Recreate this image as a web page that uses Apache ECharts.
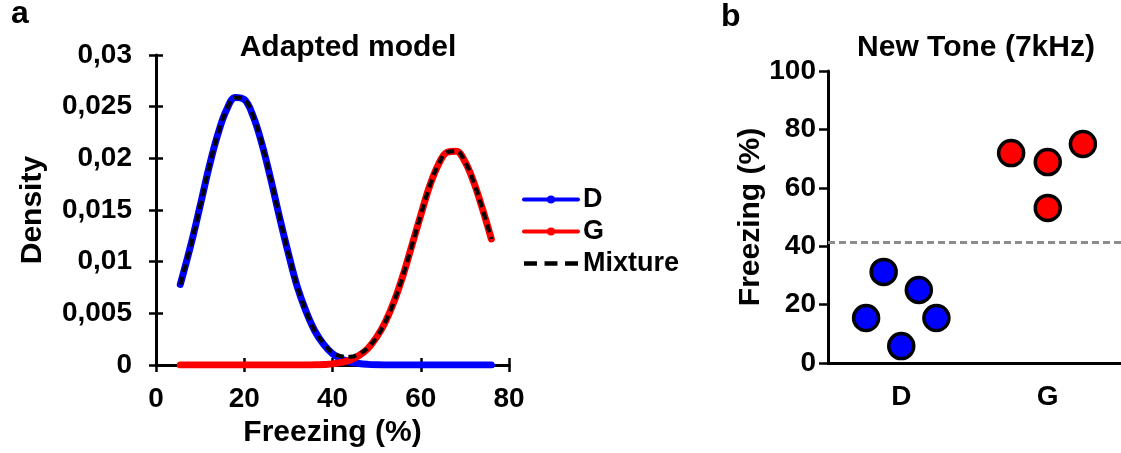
<!DOCTYPE html>
<html lang="en">
  <head>
    <meta charset="UTF-8" />
    <title>Adapted model / New Tone</title>
    <style>
      html, body { margin: 0; padding: 0; background: #fff; }
      #main { width: 1121px; height: 453px; }
    </style>
  </head>
  <body>
    <div id="main"></div>
    <script src="https://cdn.jsdelivr.net/npm/echarts@6/dist/echarts.min.js"></script>
    <script>
      // panel a: fitted densities
      const freezingX = [5.5, 8, 10, 12, 14, 16, 18, 20, 22, 24, 26, 28, 30, 32, 34, 36, 38, 40,
        42, 44, 46, 48, 50, 52, 54, 56, 58, 60, 62, 64, 66, 68, 70, 72, 74, 76];
      const densityD = [0.0078, 0.0118, 0.0154, 0.0191, 0.0223, 0.0247, 0.0259, 0.0257, 0.0241,
        0.0214, 0.018, 0.0143, 0.0108, 0.0076, 0.0052, 0.0033, 0.002, 0.0011, 0.0006, 0.0003,
        0.00015, 0.00007, 0.00003, 0.00001, 0, 0, 0, 0, 0, 0, 0, 0, 0, 0, 0, 0];
      const densityG = [0, 0, 0, 0, 0, 0, 0, 0, 0, 0, 0, 0, 0, 0, 0.00001, 0.00003, 0.00006,
        0.00012, 0.00026, 0.0005, 0.00093, 0.0016, 0.0027, 0.0042, 0.0062, 0.0087, 0.0116,
        0.0145, 0.0173, 0.0194, 0.0206, 0.0207, 0.0197, 0.0177, 0.0151, 0.0122];
      const densityMix = [0.0078, 0.0118, 0.0154, 0.0191, 0.0223, 0.0247, 0.0259, 0.0257, 0.0241,
        0.0214, 0.018, 0.0143, 0.0108, 0.0076, 0.0052, 0.0033, 0.0021, 0.0012, 0.00086, 0.0008,
        0.00108, 0.00167, 0.0027, 0.0042, 0.0062, 0.0087, 0.0116, 0.0145, 0.0173, 0.0194,
        0.0206, 0.0207, 0.0197, 0.0177, 0.0151, 0.0122];

      // panel b: freezing per animal, jitter in category units
      const groups = ["D", "G"];
      const freezeD = [31.2, 25.0, 15.4, 15.4, 5.8];
      const jitterD = [-0.12, 0.12, -0.24, 0.24, 0];
      const freezeG = [71.9, 68.8, 75.0, 53.1];
      const jitterG = [-0.25, 0, 0.24, 0];
      const threshold = 41.5;

      const font = "Liberation Sans, Arial, Helvetica, sans-serif";
      const txt = { color: "#000", fontFamily: font, fontWeight: "bold" };
      const axisLine = { show: true, onZero: false, lineStyle: { color: "#000", width: 3 } };
      const tickStyle = { color: "#000", width: 2.5 };

      const pairs = (xs, ys) => xs.map((x, i) => [x, ys[i]]);
      // category index + jitter on the hidden value axis
      const jittered = (idx, jit, ys) => jit.map((j, i) => [idx + j, ys[i]]);
      const commaFmt = (v) => (v === 0 ? "0" : String(+v.toFixed(3)).replace(".", ","));

      const chart = echarts.init(document.getElementById("main"));
      chart.setOption({
        animation: false,
        backgroundColor: "#fff",
        title: [
          { text: "Adapted model", left: 348, top: 33, textAlign: "center", padding: 0,
            textStyle: { ...txt, fontSize: 30 } },
          { text: "New Tone (7kHz)", left: 976, top: 33, textAlign: "center", padding: 0,
            textStyle: { ...txt, fontSize: 30 } },
          { text: "a", left: 11, top: -2, padding: 0, textStyle: { ...txt, fontSize: 32 } },
          { text: "b", left: 721, top: 1, padding: 0, textStyle: { ...txt, fontSize: 32 } },
        ],
        legend: {
          left: 522,
          top: 186,
          padding: 0,
          orient: "vertical",
          selectedMode: false,
          itemWidth: 54,
          itemHeight: 10,
          itemGap: 5,
          lineStyle: { width: 4 },
          textStyle: { ...txt, fontSize: 27, lineHeight: 27, padding: [0, 0, 0, 0] },
          data: [
            { name: "D" },
            { name: "G" },
            { name: "Mixture", icon: "path://M0,3h12v4h-12z M19,3h12v4h-12z M38,3h12v4h-12z",
              itemStyle: { color: "#000" } },
          ],
        },
        grid: [
          { left: 156, top: 55, width: 353, height: 311 },
          { left: 828, top: 71, width: 293, height: 292 },
        ],
        xAxis: [
          {
            gridIndex: 0, type: "value", min: 0, max: 80, interval: 20,
            name: "Freezing (%)", nameLocation: "middle", nameGap: 52,
            nameTextStyle: { ...txt, fontSize: 30 },
            axisLine, splitLine: { show: false },
            axisTick: { length: 7, lineStyle: tickStyle },
            axisLabel: { ...txt, fontSize: 28, margin: 20 },
          },
          {
            gridIndex: 0, type: "value", min: 0, max: 80, interval: 20, position: "bottom",
            axisLine: { show: false }, splitLine: { show: false }, axisLabel: { show: false },
            axisTick: { show: true, inside: true, length: 7, lineStyle: tickStyle },
          },
          {
            gridIndex: 1, type: "category", data: groups, boundaryGap: true,
            axisLine, splitLine: { show: false },
            axisTick: { alignWithLabel: true, length: 8, lineStyle: tickStyle },
            axisLabel: { ...txt, fontSize: 28, margin: 20 },
          },
          {
            gridIndex: 1, type: "value", min: -0.5, max: 1.5, show: false,
            axisLine: { show: false, onZero: false }, splitLine: { show: false },
          },
        ],
        yAxis: [
          {
            gridIndex: 0, type: "value", min: 0, max: 0.03, interval: 0.005,
            name: "Density", nameLocation: "middle", nameGap: 108,
            nameTextStyle: { ...txt, fontSize: 30 },
            axisLine, splitLine: { show: false },
            axisTick: { length: 7, lineStyle: tickStyle },
            axisLabel: { ...txt, fontSize: 28, margin: 24, formatter: commaFmt },
          },
          {
            gridIndex: 0, type: "value", min: 0, max: 0.03, interval: 0.005, position: "left",
            axisLine: { show: false, onZero: false }, splitLine: { show: false }, axisLabel: { show: false },
            axisTick: { show: true, inside: true, length: 7, lineStyle: tickStyle },
          },
          {
            gridIndex: 1, type: "value", min: 0, max: 100, interval: 20,
            name: "Freezing (%)", nameLocation: "middle", nameGap: 58,
            nameTextStyle: { ...txt, fontSize: 30 },
            axisLine, splitLine: { show: false },
            axisTick: { length: 9, lineStyle: tickStyle },
            axisLabel: { ...txt, fontSize: 28, margin: 12 },
          },
        ],
        series: [
          {
            name: "D", type: "line", xAxisIndex: 0, yAxisIndex: 0,
            data: pairs(freezingX, densityD), smooth: 0.4,
            symbol: "circle", showSymbol: false, color: "#0000ff",
            lineStyle: { color: "#0000ff", width: 7, cap: "round", join: "round" },
          },
          {
            name: "G", type: "line", xAxisIndex: 0, yAxisIndex: 0,
            data: pairs(freezingX, densityG), smooth: 0.4,
            symbol: "circle", showSymbol: false, color: "#ff0000",
            lineStyle: { color: "#ff0000", width: 7, cap: "round", join: "round" },
          },
          {
            name: "Mixture", type: "line", xAxisIndex: 0, yAxisIndex: 0,
            data: pairs(freezingX, densityMix), smooth: 0.4,
            symbol: "none", color: "#000",
            lineStyle: { color: "#000", width: 4, type: [8, 5] },
          },
          {
            name: "groupD", type: "scatter", xAxisIndex: 3, yAxisIndex: 2,
            data: jittered(0, jitterD, freezeD), symbolSize: 25,
            itemStyle: { color: "#0000ff", borderColor: "#000", borderWidth: 3.5, opacity: 1 },
            markLine: {
              silent: true, symbol: "none", label: { show: false },
              lineStyle: { color: "#8c8c8c", type: [7, 4], width: 3 },
              data: [{ yAxis: threshold }],
            },
          },
          {
            name: "groupG", type: "scatter", xAxisIndex: 3, yAxisIndex: 2,
            data: jittered(1, jitterG, freezeG), symbolSize: 25,
            itemStyle: { color: "#ff0000", borderColor: "#000", borderWidth: 3.5, opacity: 1 },
          },
        ],
      });
    </script>
  </body>
</html>
